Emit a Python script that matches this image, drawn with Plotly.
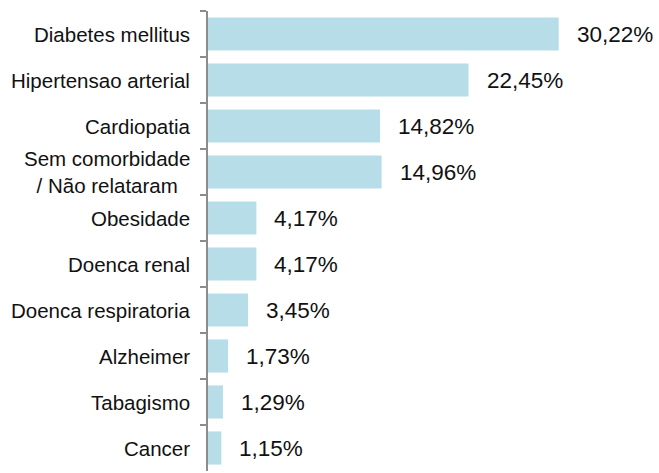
import plotly.graph_objects as go

categories = [
    "Diabetes mellitus",
    "Hipertensao arterial",
    "Cardiopatia",
    "Sem comorbidade<br>/ Não relataram",
    "Obesidade",
    "Doenca renal",
    "Doenca respiratoria",
    "Alzheimer",
    "Tabagismo",
    "Cancer",
]
values = [30.22, 22.45, 14.82, 14.96, 4.17, 4.17, 3.45, 1.73, 1.29, 1.15]
value_labels = ["30,22%", "22,45%", "14,82%", "14,96%", "4,17%", "4,17%",
                "3,45%", "1,73%", "1,29%", "1,15%"]

FONT = "Liberation Sans, Arial, sans-serif"

fig = go.Figure(
    go.Bar(
        x=values,
        y=categories,
        orientation="h",
        marker=dict(color="#B7DDE8", line=dict(width=0)),
        hoverinfo="skip",
    )
)

annotations = []
for c, v, t in zip(categories, values, value_labels):
    annotations.append(dict(
        x=v, y=c, xref="x", yref="y", text=t, showarrow=False,
        xanchor="left", yanchor="middle", xshift=16,
        font=dict(family=FONT, size=22.5, color="#111111"),
    ))
    annotations.append(dict(
        x=0, y=c, xref="paper", yref="y", text=c, showarrow=False,
        xanchor="right", yanchor="middle", xshift=-16, align="center",
        font=dict(family=FONT, size=20.5, color="#111111"),
    ))

fig.update_layout(
    width=659,
    height=473,
    margin=dict(l=208, r=10, t=11, b=2),
    paper_bgcolor="white",
    plot_bgcolor="white",
    bargap=0.28,
    showlegend=False,
    hovermode=False,
    annotations=annotations,
    xaxis=dict(visible=False, range=[0, 38]),
    yaxis=dict(
        autorange="reversed",
        showticklabels=False,
        showline=True,
        linecolor="#8c8c8c",
        linewidth=2,
        ticks="outside",
        tickson="boundaries",
        ticklen=6,
        tickwidth=2,
        tickcolor="#8c8c8c",
        showgrid=False,
        zeroline=False,
    ),
)

fig.write_html(
    "out.html",
    config={"displayModeBar": False, "staticPlot": True},
    post_script="document.body.style.margin='0';document.body.style.overflow='hidden';",
)
